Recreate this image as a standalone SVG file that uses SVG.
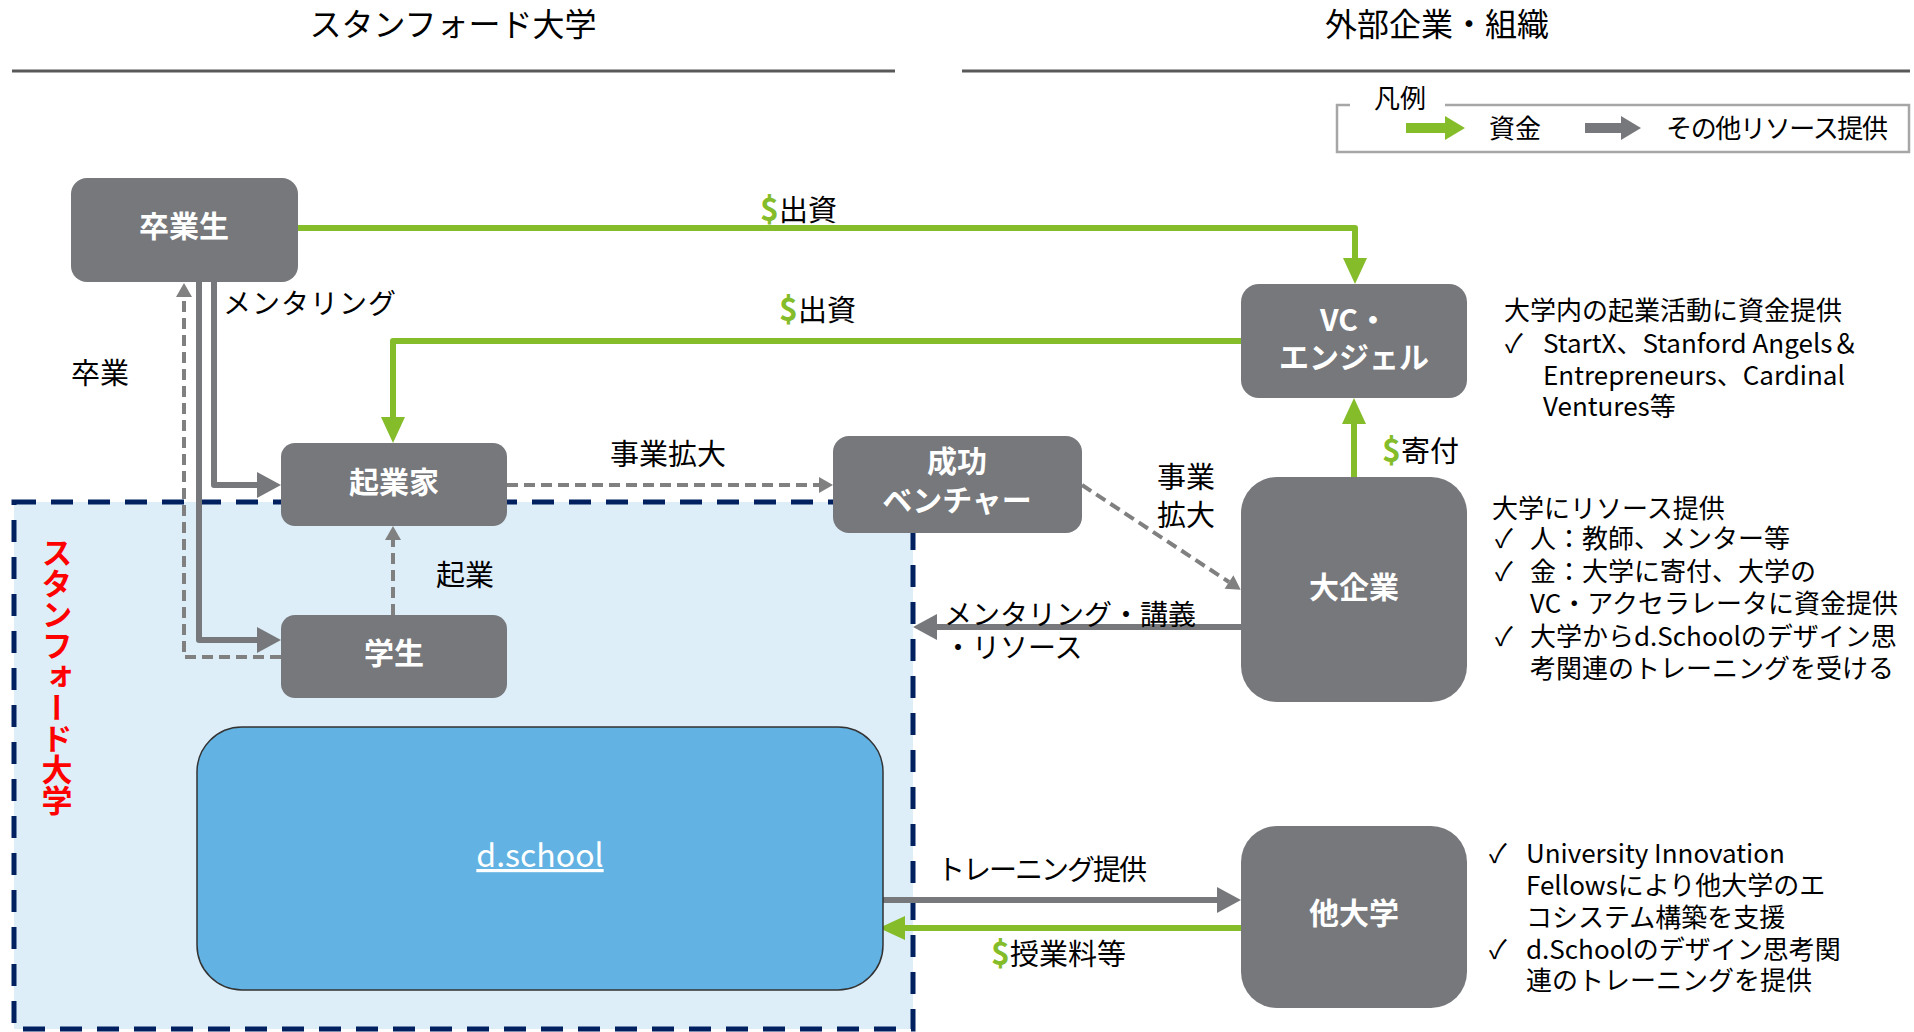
<svg xmlns="http://www.w3.org/2000/svg" width="1914" height="1032" viewBox="0 0 1914 1032">
<defs>
<style>
text{font-family:"Noto Sans CJK JP","Noto Sans",sans-serif;}
.hdr{font-size:32px;fill:#000;text-anchor:middle;}
.hline{stroke:#595959;stroke-width:3;}
.node{fill:#76787b;}
.nt{font-size:30px;font-weight:700;fill:#fff;text-anchor:middle;}
.lbl{font-size:28px;fill:#000;}
.lblk{font-size:29px;fill:#000;}
.ann{font-size:26px;fill:#000;}
.dol{fill:#84bc2a;font-weight:700;font-size:32px;}
.green{fill:none;stroke:#84bc2a;stroke-width:6;stroke-linejoin:round;}
.gsolid{fill:none;stroke:#76787b;stroke-width:6;stroke-linejoin:round;}
.gdash{fill:none;stroke:#808080;stroke-width:4;stroke-dasharray:11 6;}
</style>
<marker id="mg" markerUnits="userSpaceOnUse" markerWidth="26" markerHeight="24" refX="0" refY="12" orient="auto" overflow="visible">
<path d="M0,0 L26,12 L0,24 z" fill="#84bc2a"/>
</marker>
<marker id="ms" markerUnits="userSpaceOnUse" markerWidth="24" markerHeight="26" refX="0" refY="13" orient="auto" overflow="visible">
<path d="M0,0 L24,13 L0,26 z" fill="#76787b"/>
</marker>
<marker id="md" markerUnits="userSpaceOnUse" markerWidth="14" markerHeight="16" refX="0" refY="8" orient="auto" overflow="visible">
<path d="M0,0 L14,8 L0,16 z" fill="#808080"/>
</marker>
</defs>

<g id="headers">
<text class="hdr" x="453" y="36">スタンフォード大学</text>
<line class="hline" x1="12" y1="71" x2="895" y2="71"/>
<text class="hdr" x="1437" y="36">外部企業・組織</text>
<line class="hline" x1="962" y1="71" x2="1910" y2="71"/>
</g>

<g id="legend">
<path d="M1350,105 H1337 V152 H1909 V105 H1445" fill="none" stroke="#a6a6a6" stroke-width="2.5"/>
<text class="ann" x="1400" y="108" text-anchor="middle">凡例</text>
<polygon points="1406,123 1445,123 1445,116 1465,128 1445,140 1445,133 1406,133" fill="#84bc2a"/>
<text class="ann" x="1489" y="138">資金</text>
<polygon points="1585,123 1621,123 1621,116 1641,128 1621,140 1621,133 1585,133" fill="#76787b"/>
<text class="ann" x="1666" y="138" textLength="222">その他リソース提供</text>
</g>

<g id="stanford-area">
<rect x="14" y="502" width="899" height="527" fill="#ddeef9" stroke="#002060" stroke-width="5" stroke-dasharray="22 15"/>
<text x="57" y="537" writing-mode="vertical-rl" font-size="31" font-weight="700" fill="#ff0000">スタンフォード大学</text>
</g>

<g id="connectors">
<polyline class="green" points="298,228 1355,228 1355,258" marker-end="url(#mg)"/>
<polyline class="green" points="1241,341 393,341 393,417" marker-end="url(#mg)"/>
<polyline class="green" points="1354,477 1354,424" marker-end="url(#mg)"/>
<polyline class="green" points="1241,928 905,928" marker-end="url(#mg)"/>
<polyline class="gsolid" points="214,282 214,485 257,485" marker-end="url(#ms)"/>
<polyline class="gsolid" points="199,282 199,640 257,640" marker-end="url(#ms)"/>
<polyline class="gsolid" points="1241,627 937,627" marker-end="url(#ms)"/>
<polyline class="gsolid" points="876,900 1217,900" marker-end="url(#ms)"/>
<polyline class="gdash" points="281,657 184,657 184,297" marker-end="url(#md)"/>
<polyline class="gdash" points="393,615 393,540" marker-end="url(#md)"/>
<polyline class="gdash" points="507,485 819,485" marker-end="url(#md)"/>
<polyline class="gdash" points="1082,485 1229,582" marker-end="url(#md)"/>

<text class="lblk" x="760" y="221"><tspan class="dol">$</tspan>出資</text>
<text class="lblk" x="779" y="321"><tspan class="dol">$</tspan>出資</text>
<text class="lblk" x="1382" y="462"><tspan class="dol">$</tspan>寄付</text>
<text class="lblk" x="991" y="965"><tspan class="dol">$</tspan>授業料等</text>
<text class="lbl" x="223" y="314" textLength="173">メンタリング</text>
<text class="lblk" x="71" y="384">卒業</text>
<text class="lblk" x="436" y="586">起業</text>
<text class="lblk" x="610" y="465">事業拡大</text>
<text class="lblk" x="1157" y="488">事業<tspan x="1157" y="526">拡大</tspan></text>
<text class="lbl" x="944" y="625">メンタリング・講義</text>
<text class="lbl" x="944" y="658">・リソース</text>
<text class="lbl" x="937" y="880" textLength="210">トレーニング提供</text>
</g>

<g id="node-sotsugyosei">
<rect class="node" x="71" y="178" width="227" height="104" rx="16"/>
<text class="nt" x="184" y="237">卒業生</text>
</g>
<g id="node-vc">
<rect class="node" x="1241" y="284" width="226" height="114" rx="18"/>
<text class="nt" x="1354" y="331">VC・<tspan x="1354" y="368">エンジェル</tspan></text>
</g>
<g id="node-kigyoka">
<rect class="node" x="281" y="443" width="226" height="83" rx="14"/>
<text class="nt" x="394" y="493">起業家</text>
</g>
<g id="node-venture">
<rect class="node" x="833" y="436" width="249" height="97" rx="16"/>
<text class="nt" x="957" y="472">成功<tspan x="957" y="511">ベンチャー</tspan></text>
</g>
<g id="node-daikigyo">
<rect class="node" x="1241" y="477" width="226" height="225" rx="36"/>
<text class="nt" x="1354" y="598">大企業</text>
</g>
<g id="node-gakusei">
<rect class="node" x="281" y="615" width="226" height="83" rx="14"/>
<text class="nt" x="394" y="664">学生</text>
</g>
<g id="node-tadaigaku">
<rect class="node" x="1241" y="826" width="226" height="182" rx="36"/>
<text class="nt" x="1354" y="924">他大学</text>
</g>
<g id="node-dschool">
<rect x="197" y="727" width="686" height="263" rx="45" fill="#62b3e3" stroke="#333" stroke-width="1.5"/>
<text x="540" y="867" font-size="32" fill="#fff" text-anchor="middle" text-decoration="underline">d.school</text>
</g>

<g id="notes-vc">
<text class="ann" x="1504" y="320">大学内の起業活動に資金提供<tspan x="1505" y="353">✓</tspan><tspan x="1543" y="353">StartX、Stanford Angels＆</tspan><tspan x="1543" y="385">Entrepreneurs、Cardinal</tspan><tspan x="1543" y="416">Ventures等</tspan></text>
</g>
<g id="notes-daikigyo">
<text class="ann" x="1492" y="518">大学にリソース提供<tspan x="1495" y="548">✓</tspan><tspan x="1530" y="548">人：教師、メンター等</tspan><tspan x="1495" y="581">✓</tspan><tspan x="1530" y="581">金：大学に寄付、大学の</tspan><tspan x="1530" y="613">VC・アクセラレータに資金提供</tspan><tspan x="1495" y="646">✓</tspan><tspan x="1530" y="646">大学からd.Schoolのデザイン思</tspan><tspan x="1530" y="678">考関連のトレーニングを受ける</tspan></text>
</g>
<g id="notes-tadaigaku">
<text class="ann" x="1489" y="863">✓<tspan x="1526" y="863">University Innovation</tspan><tspan x="1526" y="895">Fellowsにより他大学のエ</tspan><tspan x="1526" y="927">コシステム構築を支援</tspan><tspan x="1489" y="959">✓</tspan><tspan x="1526" y="959">d.Schoolのデザイン思考関</tspan><tspan x="1526" y="990">連のトレーニングを提供</tspan></text>
</g>
</svg>
